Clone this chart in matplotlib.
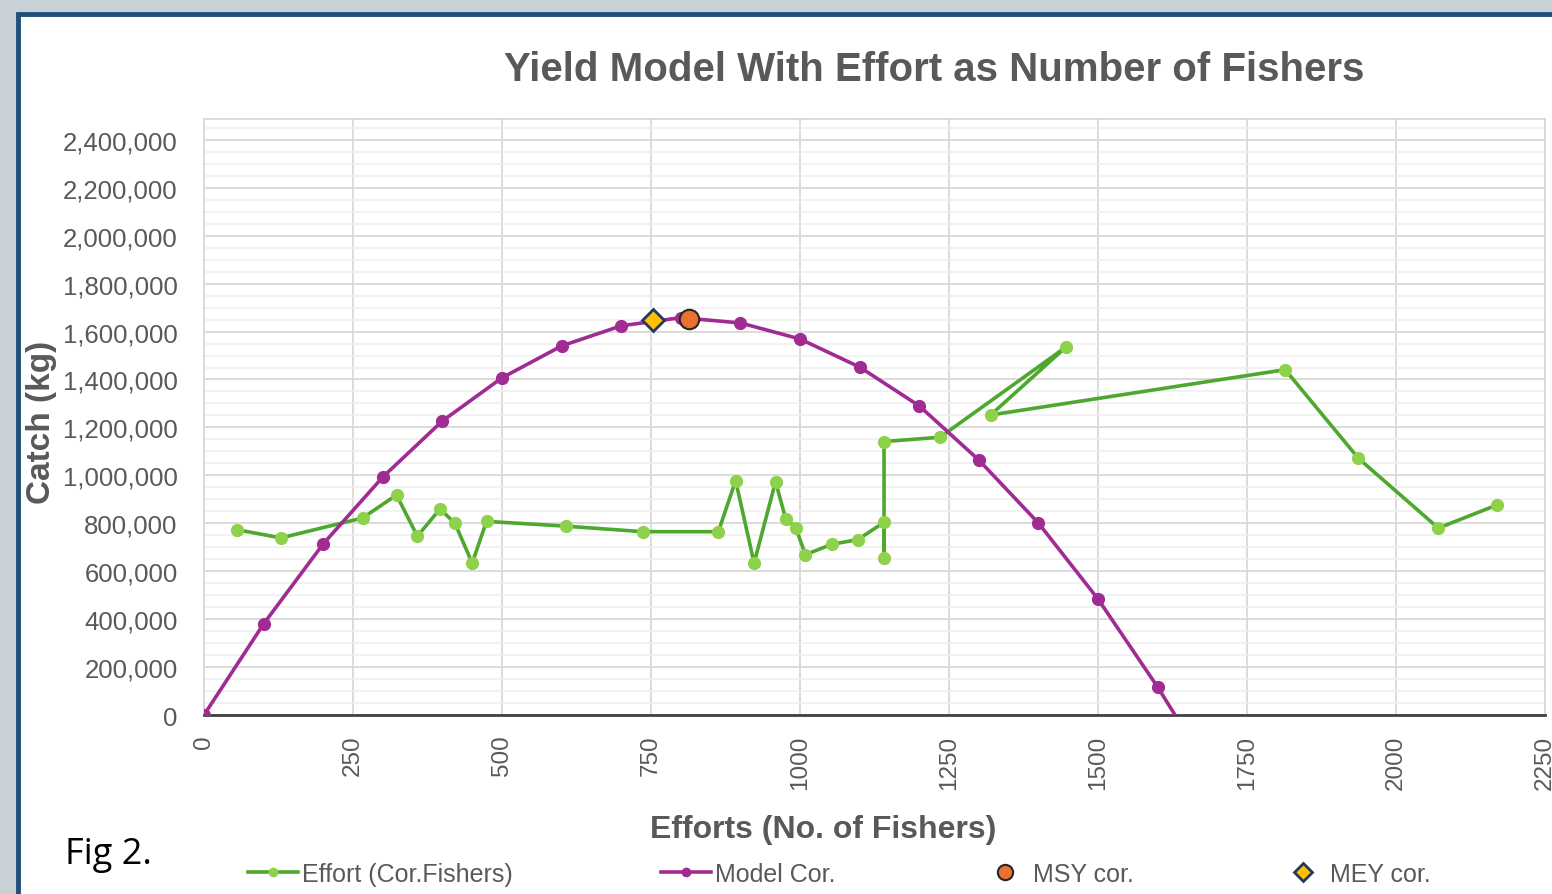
import matplotlib
matplotlib.use("Agg")
import matplotlib.pyplot as plt
import numpy as np
from matplotlib.patches import Rectangle
from matplotlib.lines import Line2D
from matplotlib.ticker import FuncFormatter, MultipleLocator

# ---------------- data ----------------
effort_fishers = [56, 129, 266, 323, 358, 396, 421, 450, 474, 607, 736, 863, 892,
                  923, 959, 976, 993, 1009, 1053, 1097, 1141, 1141, 1141, 1235,
                  1446, 1320, 1814, 1937, 2071, 2169]
effort_catch = [773000, 739000, 822000, 918000, 746000, 860000, 800000, 634000,
                808000, 788000, 765000, 765000, 978000, 634000, 974000, 818000,
                782000, 669000, 712000, 732000, 804000, 654000, 1141000, 1159000,
                1535000, 1252000, 1441000, 1071000, 780000, 876000]

model_effort = [0, 100, 200, 300, 400, 500, 600, 700, 800, 900, 1000, 1100,
                1200, 1300, 1400, 1500, 1600, 1700]
model_catch = [0, 380000, 714000, 993000, 1227000, 1407000, 1540000, 1624000,
               1658000, 1636000, 1569000, 1452000, 1290000, 1064000, 801000,
               484000, 117000, -283000]

msy_effort = [814]
msy_catch = [1653000]
mey_effort = [753]
mey_catch = [1649000]

xticks = [0, 250, 500, 750, 1000, 1250, 1500, 1750, 2000, 2250]

# ---------------- figure ----------------
W, H = 1552, 895
fig = plt.figure(figsize=(W / 100, H / 100), dpi=100)
fig.patch.set_facecolor("#c9d0d6")

# background panel
panel = Rectangle((18 / W, -0.05), 1.1, 1 - 15 / H + 0.05, transform=fig.transFigure,
                  facecolor="white", edgecolor="#1f4e79", linewidth=3.5, zorder=-5)
fig.patches.append(panel)

ax = fig.add_axes([204 / W, 1 - 716 / H, (1545 - 204) / W, (716 - 120) / H])
ax.set_zorder(2)
ax.set_facecolor("white")

green_line = "#4ea72e"
green_mk = "#8ed14a"
purple = "#a02b93"

ax.plot(effort_fishers, effort_catch, color=green_line, lw=2.6, marker="o",
        ms=8.5, mfc=green_mk, mec=green_mk, zorder=3)
ax.plot(model_effort, model_catch, color=purple, lw=2.6, marker="o",
        ms=8.5, mfc=purple, mec=purple, zorder=4)
ax.plot(msy_effort, msy_catch, ls="none", marker="o", ms=14, mfc="#e97132",
        mec="#262626", mew=1.5, zorder=6)
ax.plot(mey_effort, mey_catch, ls="none", marker="D", ms=11, mfc="#ffc000",
        mec="#1f3864", mew=2, zorder=6)

ax.set_xlim(0, 2250)
ax.set_ylim(0, 2487000)
ax.set_xticks(xticks)
ax.yaxis.set_major_locator(MultipleLocator(200000))
ax.yaxis.set_minor_locator(MultipleLocator(50000))
ax.yaxis.set_major_formatter(FuncFormatter(lambda v, p: f"{int(v):,}"))
ax.grid(True, which="major", axis="both", color="#d9d9d9", lw=1.3, zorder=0)
ax.grid(True, which="minor", axis="y", color="#efefef", lw=1.1, zorder=0)
ax.set_axisbelow(True)

for s in ["top", "right", "left"]:
    ax.spines[s].set_color("#d9d9d9")
    ax.spines[s].set_linewidth(1.3)
ax.spines["bottom"].set_color("#404040")
ax.spines["bottom"].set_linewidth(2)

ax.tick_params(axis="both", which="both", length=0, colors="#595959")
ax.tick_params(axis="y", labelsize=18.5, pad=19)
ax.tick_params(axis="x", labelsize=17.5, pad=14, labelrotation=90)
for lab in ax.get_xticklabels() + ax.get_yticklabels():
    lab.set_family("Liberation Sans")
    lab.set_color("#595959")

fam = ["Liberation Sans", "DejaVu Sans"]

fig.text(934 / W, 1 - 70 / H, "Yield Model With Effort as Number of Fishers",
         ha="center", va="center", fontsize=29, fontweight="bold",
         family=fam, color="#595959")
fig.text(42 / W, 1 - 422 / H, "Catch (kg)", rotation=90, ha="center",
         va="center", fontsize=24, fontweight="bold", family=fam,
         color="#595959")
fig.text(823 / W, 1 - 830 / H, "Efforts (No. of Fishers)", ha="center",
         va="center", fontsize=23, fontweight="bold", family=fam,
         color="#595959")
fig.text(65 / W, 1 - 855 / H, "Fig 2.", ha="left", va="center", fontsize=26,
         family=["Open Sans", "DejaVu Sans"], color="black")

items = [
    (Line2D([], [], color=green_line, lw=2.6, marker="o", ms=6, mfc=green_mk, mec=green_mk),
     "Effort (Cor.Fishers)", 248, 2.0, 0.15),
    (Line2D([], [], color=purple, lw=2.6, marker="o", ms=6, mfc=purple, mec=purple),
     "Model Cor.", 661, 2.0, 0.15),
    (Line2D([], [], ls="none", marker="o", ms=11, mfc="#e97132", mec="#262626", mew=1.5),
     "MSY cor.", 993, 1.0, 0.6),
    (Line2D([], [], ls="none", marker="D", ms=9, mfc="#ffc000", mec="#1f3864", mew=2),
     "MEY cor.", 1290, 1.0, 0.6),
]
for h, lab, xp, hl, tp in items:
    leg = fig.legend([h], [lab], loc="center left",
                     bbox_to_anchor=(xp / W, 1 - 875 / H), frameon=False,
                     handlelength=hl, handletextpad=tp, borderpad=0,
                     borderaxespad=0, prop={"family": fam, "size": 18})
    for t in leg.get_texts():
        t.set_color("#595959")

fig.savefig("out.png", dpi=100, facecolor=fig.get_facecolor())
